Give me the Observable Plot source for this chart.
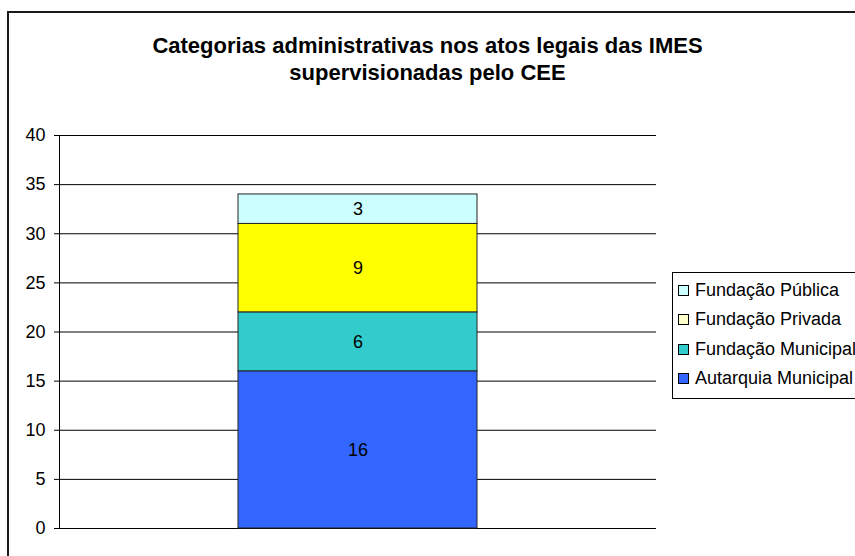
<!DOCTYPE html>
<html>
<head>
<meta charset="utf-8">
<script src="https://cdn.jsdelivr.net/npm/d3@7"></script>
<script src="https://cdn.jsdelivr.net/npm/@observablehq/plot@0.6"></script>
<style>
  html, body { margin: 0; padding: 0; background: #fff; }
  #wrap { position: relative; width: 855px; height: 556px; overflow: hidden; font-family: "Liberation Sans", Arial, sans-serif; color: #000; }
  #frame { position: absolute; left: 7px; top: 11px; width: 2000px; height: 2000px; border-left: 2px solid #1a1a1a; border-top: 2px solid #1a1a1a; }
  #title { position: absolute; left: 0; width: 855px; top: 32px; text-align: center; font-weight: bold; font-size: 22px; line-height: 27px; }
  #chart { position: absolute; left: 0; top: 0; }
  #legend { position: absolute; left: 672px; top: 272px; width: 200px; height: 125px; border: 1px solid #000; background: #fff; }
  .item { position: absolute; left: 5px; height: 20px; display: flex; align-items: center; font-size: 18px; white-space: nowrap; }
  .sw { width: 9px; height: 9px; border: 1px solid #000; margin-right: 6px; }
</style>
</head>
<body>
<div id="wrap">
  <div id="frame"></div>
  <div id="chart"></div>
  <div id="title">Categorias administrativas nos atos legais das IMES<br>supervisionadas pelo CEE</div>
  <div id="legend"></div>
</div>
<script>
const categories = ["Autarquia Municipal", "Fundação Municipal", "Fundação Privada", "Fundação Pública"];
const values = [16, 6, 9, 3];
const barColors = ["#3366FF", "#33CCCC", "#FFFF00", "#CCFFFF"];
const legendColors = ["#3366FF", "#33CCCC", "#FFFFCC", "#CCFFFF"];
const yTicks = [0, 5, 10, 15, 20, 25, 30, 35, 40];
const legendOrder = ["Fundação Pública", "Fundação Privada", "Fundação Municipal", "Autarquia Municipal"];

const data = categories.map((c, i) => ({group: "g", category: c, value: values[i]}));

const chart = Plot.plot({
  width: 855,
  height: 556,
  marginLeft: 59,
  marginRight: 199,
  marginTop: 135,
  marginBottom: 28,
  style: {fontFamily: "'Liberation Sans', Arial, sans-serif", fontSize: "18px", color: "#000", background: "transparent"},
  x: {domain: ["g"], padding: 0.428, axis: null},
  y: {domain: [0, 40], ticks: yTicks, tickSize: 5, tickPadding: 9, label: null, tickFormat: d => String(d)},
  color: {domain: categories, range: barColors},
  marks: [
    Plot.ruleY(yTicks, {stroke: "#000", strokeWidth: 1}),
    Plot.frame({anchor: "left", stroke: "#000"}),
    Plot.axisY({ticks: yTicks, tickSize: 5, tickPadding: 9, fontSize: 18, tickFormat: d => String(d), label: null}),
    Plot.barY(data, Plot.stackY({x: "group", y: "value", fill: "category", order: categories, stroke: "#222", strokeWidth: 1})),
    Plot.text(data, Plot.stackY({x: "group", y: "value", z: "category", order: categories, text: d => String(d.value), fill: "#000", fontSize: 18}))
  ]
});
document.getElementById("chart").appendChild(chart);

const legend = document.getElementById("legend");
const rowTops = [7, 36.5, 66, 95.5];
legendOrder.forEach((name, i) => {
  const item = document.createElement("div");
  item.className = "item";
  item.style.top = rowTops[i] + "px";
  const sw = document.createElement("div");
  sw.className = "sw";
  sw.style.background = legendColors[categories.indexOf(name)];
  const t = document.createElement("span");
  t.textContent = name;
  item.appendChild(sw);
  item.appendChild(t);
  legend.appendChild(item);
});
</script>
</body>
</html>
